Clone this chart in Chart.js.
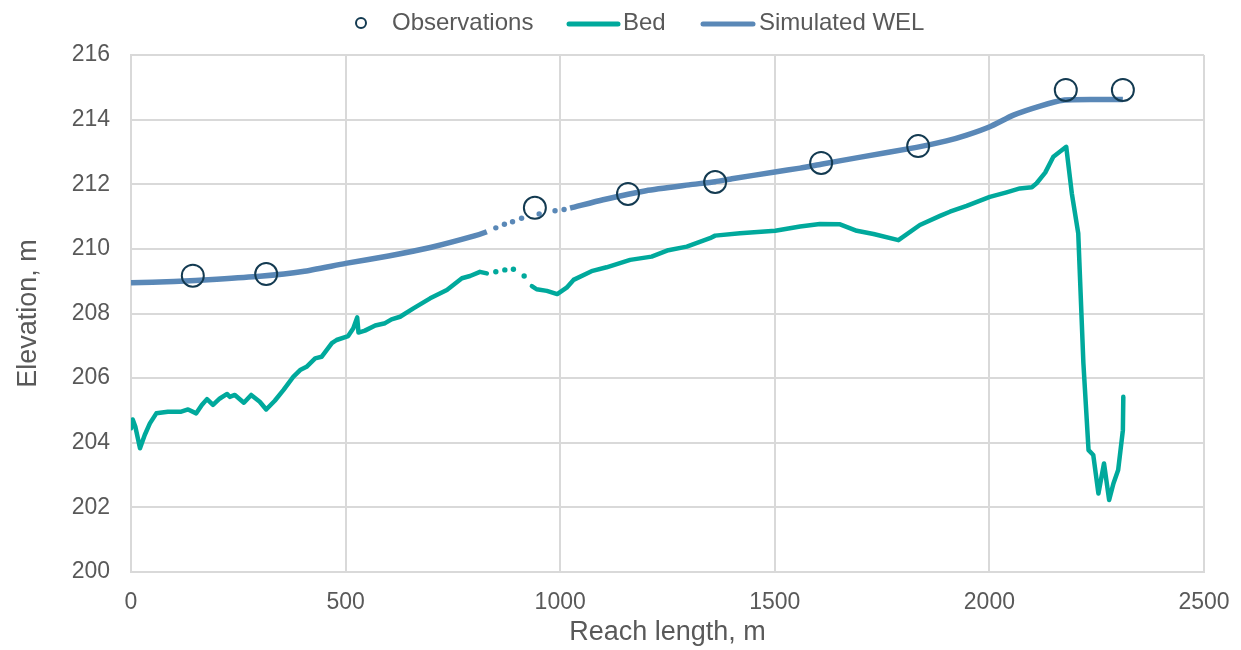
<!DOCTYPE html>
<html>
<head>
<meta charset="utf-8">
<script src="https://cdn.jsdelivr.net/npm/chart.js@4.4.1/dist/chart.umd.min.js"></script>
<style>
  html, body { margin: 0; padding: 0; background: #ffffff; }
  #wrap { width: 1241px; height: 650px; position: relative; }
</style>
</head>
<body>
<div id="wrap"><canvas id="chart"></canvas></div>
<script>
// Observed water levels along the reach (m, m)
const obsX = [144, 315, 941, 1158, 1361, 1608, 1834, 2178, 2311];
const obsY = [209.17, 209.22, 211.27, 211.70, 212.07, 212.66, 213.18, 214.92, 214.92];

// Surveyed bed profile
const bedX = [0, 4, 10, 21, 32, 44, 59, 86, 117, 133, 152, 165, 177, 191, 207, 224, 230, 242, 263, 280,
  300, 315, 335, 355, 378, 394, 409, 429, 444, 468, 479, 506, 518, 527, 530, 545, 569, 592, 607, 627,
  658, 697, 736, 771, 790, 813, 829, 850, 871, 891, 916, 934, 945, 969, 993, 1015, 1031, 1073, 1108, 1163,
  1213, 1252, 1295, 1349, 1361, 1419, 1501, 1559, 1605, 1652, 1691, 1730, 1788, 1838, 1885, 1908, 1947, 2001, 2040, 2071,
  2099, 2110, 2130, 2149, 2179, 2192, 2207, 2219, 2231, 2242, 2254, 2267, 2279, 2289, 2300, 2311, 2312];
const bedY = [204.45, 204.72, 204.50, 203.83, 204.24, 204.60, 204.91, 204.96, 204.96, 205.03, 204.91, 205.17, 205.35, 205.17, 205.37, 205.51, 205.42, 205.48, 205.24, 205.48,
  205.27, 205.03, 205.30, 205.63, 206.04, 206.25, 206.35, 206.61, 206.66, 207.08, 207.18, 207.30, 207.54, 207.88, 207.41, 207.47, 207.63, 207.70, 207.82, 207.90,
  208.16, 208.47, 208.73, 209.09, 209.16, 209.29, 209.24, 209.29, 209.35, 209.37, 209.16, 208.85, 208.75, 208.70, 208.60, 208.80, 209.04, 209.31, 209.43, 209.66,
  209.76, 209.96, 210.07, 210.33, 210.41, 210.48, 210.56, 210.69, 210.77, 210.76, 210.56, 210.46, 210.27, 210.74, 211.02, 211.15, 211.33, 211.61, 211.75, 211.87,
  211.91, 212.03, 212.36, 212.85, 213.16, 211.72, 210.48, 206.46, 203.77, 203.62, 202.43, 203.36, 202.23, 202.74, 203.16, 204.39, 205.42];

// Simulated water elevation level
const welX = [0, 100, 200, 300, 400, 500, 600, 700, 800, 829, 850, 870, 889, 910, 951, 988, 1009, 1023,
  1100, 1200, 1300, 1361, 1400, 1500, 1559, 1608, 1700, 1830, 1900, 1947, 2001, 2056, 2118, 2172, 2250, 2311];
const welY = [208.95, 208.99, 209.06, 209.15, 209.30, 209.55, 209.78, 210.05, 210.40, 210.53, 210.65, 210.76, 210.84, 210.95, 211.08, 211.18, 211.22, 211.26,
  211.52, 211.80, 211.98, 212.08, 212.17, 212.38, 212.50, 212.62, 212.84, 213.14, 213.34, 213.52, 213.78, 214.14, 214.42, 214.60, 214.62, 214.62];

// Stretches where only sparse survey points exist (drawn as dots, no line)
const bedGap = [829, 934];
const welGap = [829, 1023];

const xTicks = [0, 500, 1000, 1500, 2000, 2500];
const yTicks = [200, 202, 204, 206, 208, 210, 212, 214, 216];

const COL_BED = '#00A99C';
const COL_WEL = '#5A88B7';
const COL_OBS = '#133A51';
const COL_TEXT = '#595959';
const COL_GRID = '#D9D9D9';
const FONT = "'Liberation Sans', Arial, sans-serif";

const pairs = (xs, ys) => xs.map((x, i) => ({ x, y: ys[i] }));
const inGap = (gap) => (ctx) => (ctx.p0.parsed.x >= gap[0] && ctx.p1.parsed.x <= gap[1]) ? 'rgba(0,0,0,0)' : undefined;
const gapDot = (gap) => (ctx) => {
  const p = ctx.raw;
  return (p && p.x > gap[0] && p.x < gap[1]) ? 2.7 : 0;
};

// Legend drawn across the top band
const topLegend = {
  id: 'topLegend',
  afterDraw(chart) {
    const c = chart.ctx;
    const y = 23;
    c.save();
    c.font = '24px ' + FONT;
    c.textBaseline = 'middle';
    c.textAlign = 'left';
    const ds = chart.data.datasets;
    // Observations: open circle
    c.beginPath();
    c.arc(361, y, 5, 0, Math.PI * 2);
    c.strokeStyle = COL_OBS;
    c.lineWidth = 2;
    c.stroke();
    c.fillStyle = COL_TEXT;
    c.fillText(ds[0].label, 392, y);
    // Bed
    c.lineCap = 'round';
    c.lineWidth = 5;
    c.strokeStyle = COL_BED;
    c.beginPath(); c.moveTo(569, y + 1); c.lineTo(618, y + 1); c.stroke();
    c.fillText(ds[1].label, 623, y);
    // Simulated WEL
    c.strokeStyle = COL_WEL;
    c.beginPath(); c.moveTo(703, y + 1); c.lineTo(753, y + 1); c.stroke();
    c.fillText(ds[2].label, 759, y);
    c.restore();
  }
};

new Chart(document.getElementById('chart'), {
  type: 'scatter',
  data: {
    datasets: [
      {
        label: 'Observations',
        data: pairs(obsX, obsY),
        showLine: false,
        pointStyle: 'circle',
        pointRadius: 11,
        pointBorderWidth: 2,
        pointBorderColor: COL_OBS,
        pointBackgroundColor: 'rgba(0,0,0,0)',
        order: 0
      },
      {
        label: 'Bed',
        data: pairs(bedX, bedY),
        showLine: true,
        borderColor: COL_BED,
        backgroundColor: COL_BED,
        borderWidth: 4.5,
        borderJoinStyle: 'round',
        borderCapStyle: 'round',
        pointRadius: gapDot(bedGap),
        pointBorderWidth: 0,
        pointBackgroundColor: COL_BED,
        tension: 0,
        segment: { borderColor: inGap(bedGap) },
        order: 2
      },
      {
        label: 'Simulated WEL',
        data: pairs(welX, welY),
        showLine: true,
        borderColor: COL_WEL,
        backgroundColor: COL_WEL,
        borderWidth: 5.5,
        borderJoinStyle: 'round',
        borderCapStyle: 'butt',
        pointRadius: gapDot(welGap),
        pointBorderWidth: 0,
        pointBackgroundColor: COL_WEL,
        tension: 0.2,
        segment: { borderColor: inGap(welGap) },
        order: 1
      }
    ]
  },
  options: {
    responsive: true,
    maintainAspectRatio: false,
    animation: false,
    layout: { padding: { left: 0, right: 37, top: 55, bottom: 0 } },
    plugins: {
      legend: { display: false },
      tooltip: { enabled: false }
    },
    scales: {
      x: {
        type: 'linear',
        min: 0,
        max: 2500,
        afterFit: (s) => { s.height = 78; s.paddingLeft = 0; s.paddingRight = 0; },
        afterBuildTicks: (s) => { s.ticks = xTicks.map(v => ({ value: v })); },
        grid: { color: COL_GRID, lineWidth: 2, drawTicks: false },
        border: { color: COL_GRID, width: 2 },
        ticks: { color: COL_TEXT, font: { size: 23, family: FONT }, padding: 17, maxRotation: 0, callback: (v) => String(v) },
        title: { display: true, text: 'Reach length, m', color: COL_TEXT, font: { size: 27, family: FONT }, padding: { top: 0, bottom: 1 } }
      },
      y: {
        type: 'linear',
        min: 200,
        max: 216,
        afterFit: (s) => { s.width = 131; s.paddingTop = 0; s.paddingBottom = 0; },
        afterBuildTicks: (s) => { s.ticks = yTicks.map(v => ({ value: v })); },
        grid: { color: COL_GRID, lineWidth: 2, drawTicks: false },
        border: { color: COL_GRID, width: 2 },
        ticks: { color: COL_TEXT, font: { size: 23, family: FONT }, padding: 21, callback: (v) => String(v) },
        title: { display: true, text: 'Elevation, m', color: COL_TEXT, font: { size: 27, family: FONT }, padding: { top: 12, bottom: 0 } }
      }
    }
  },
  plugins: [topLegend]
});
</script>
</body>
</html>
